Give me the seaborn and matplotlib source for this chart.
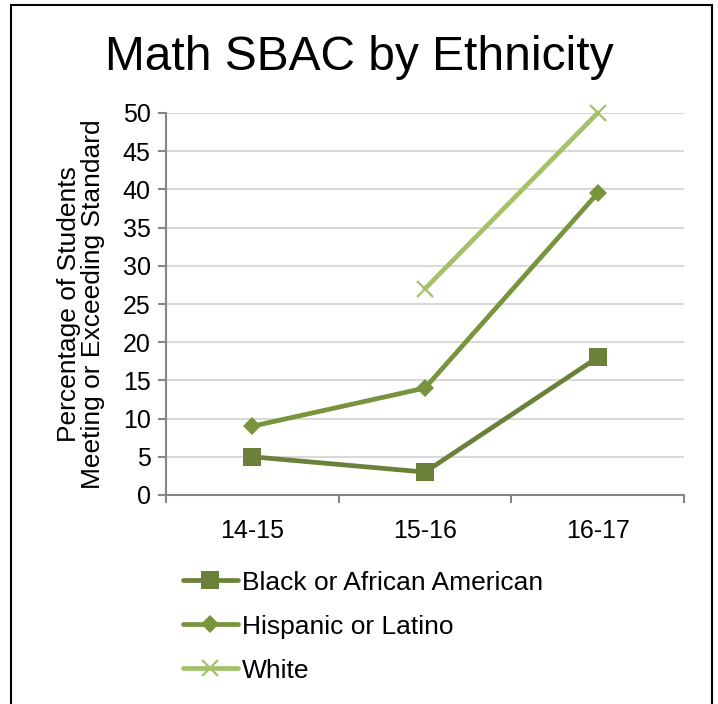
import matplotlib
matplotlib.use("Agg")
import matplotlib.pyplot as plt
import seaborn as sns
import pandas as pd
import numpy as np
from matplotlib.patches import Rectangle
from matplotlib.ticker import FixedLocator

years = ["14-15", "15-16", "16-17"]
black = [5, 3, 18]
hispanic = [9, 14, 39.5]
white = [np.nan, 27, 50]
series_names = ["Black or African American", "Hispanic or Latino", "White"]
colors = ["#6b8139", "#78943d", "#a3c169"]
yticks = list(range(0, 55, 5))

sns.set_theme(style="white")
plt.rcParams["font.family"] = ["Liberation Sans", "DejaVu Sans"]

df = pd.DataFrame({
    "year": years * 3,
    "value": black + hispanic + white,
    "group": [series_names[0]] * 3 + [series_names[1]] * 3 + [series_names[2]] * 3,
})

fig = plt.figure(figsize=(7.18, 7.04), dpi=100)
W, H = 718, 704
l, r, t, b = 166, 684, 113, 495
ax = fig.add_axes([l / W, 1 - b / H, (r - l) / W, (b - t) / H])

styles = [
    dict(marker="s", markersize=12.5, mew=0),
    dict(marker="D", markersize=9.5, mew=0),
    dict(marker="x", markersize=12, mew=1.6),
]
for name, col, st in zip(series_names, colors, styles):
    sub = df[df["group"] == name].dropna()
    sns.lineplot(data=sub, x="year", y="value", ax=ax, color=col, linewidth=3.4,
                 label=name, solid_capstyle="round", mec=col, mfc=col,
                 clip_on=False, **st)

ax.set_xlim(-0.5, 2.5)
ax.set_ylim(0, 50)
ax.set_yticks(yticks)
ax.set_xticks(range(len(years)))
ax.set_xticklabels(years)
ax.xaxis.set_minor_locator(FixedLocator([-0.5, 0.5, 1.5, 2.5]))
ax.grid(axis="y", color="#d9d9d9", linewidth=1.5)
ax.grid(axis="x", visible=False)
ax.set_axisbelow(True)
for s in ["top", "right"]:
    ax.spines[s].set_visible(False)
for s in ["left", "bottom"]:
    ax.spines[s].set_color("#868686")
    ax.spines[s].set_linewidth(1.5)
ax.tick_params(axis="y", which="major", left=True, length=6, width=1.5, color="#868686",
               labelsize=18, pad=5, labelcolor="black")
ax.tick_params(axis="x", which="major", bottom=False, labelsize=18, pad=11, labelcolor="black")
ax.tick_params(axis="x", which="minor", bottom=True, length=6, width=1.5, color="#868686")

ax.set_xlabel("")
ax.set_ylabel("Percentage of Students\nMeeting or Exceeding Standard", fontsize=19,
              linespacing=1.0, color="black")
ax.yaxis.set_label_coords(-0.118, 0.5)

handles, labels = ax.get_legend_handles_labels()
ax.get_legend().remove()
fig.legend(handles, labels, loc="upper left", bbox_to_anchor=(172 / W, 1 - 560 / H),
           frameon=False, fontsize=19, handlelength=2.1, handletextpad=0.15,
           labelspacing=0.76, borderaxespad=0, labelcolor="black")

fig.text(0.5, 1 - 70 / H, "Math SBAC by Ethnicity", ha="center", va="baseline",
         fontsize=34.5, color="black")

fig.patches.append(Rectangle((10.5 / W, -0.05), 701 / W, 1.05 - 5 / H,
                             transform=fig.transFigure, fill=False,
                             edgecolor="black", linewidth=1.5))

fig.savefig("out.png", dpi=100)
